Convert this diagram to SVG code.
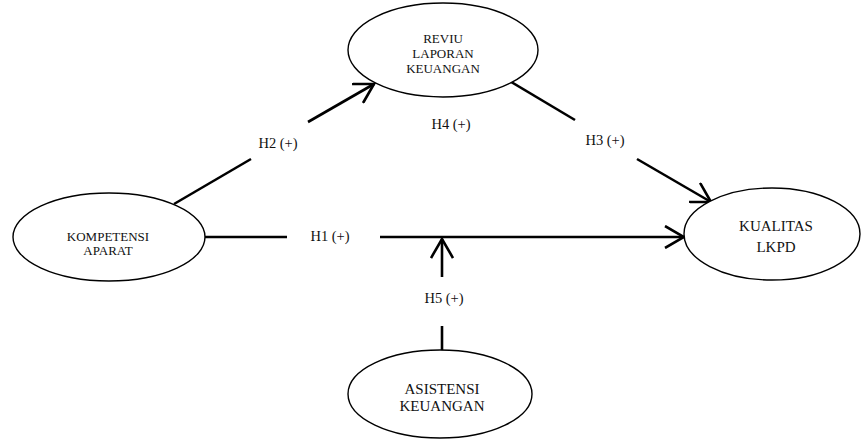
<svg xmlns="http://www.w3.org/2000/svg" width="861" height="441" viewBox="0 0 861 441">
<style>
.node ellipse{fill:#fff;stroke:#000;stroke-width:1.4}
.t{font-family:"Liberation Serif","Times New Roman",serif;fill:#111;text-anchor:middle}
.s{font-size:13px}
.b{font-size:15px}
.lbl{font-family:"Liberation Serif","Times New Roman",serif;font-size:14.5px;fill:#111;text-anchor:middle}
.ln{stroke:#000;stroke-width:2.6;fill:none}
</style>
<defs>
<marker id="ah" viewBox="0 0 24 24" refX="22" refY="12" markerWidth="24" markerHeight="24" markerUnits="userSpaceOnUse" orient="auto">
<path d="M3,1 L22,12 L3,23" fill="none" stroke="#000" stroke-width="2.6"/>
</marker>
</defs>
<g id="connectors">
<line class="ln" x1="174" y1="204" x2="251" y2="159"/>
<line class="ln" x1="308" y1="122" x2="374" y2="84" marker-end="url(#ah)"/>
<line class="ln" x1="508" y1="80" x2="575" y2="120"/>
<line class="ln" x1="637" y1="159" x2="711" y2="202" marker-end="url(#ah)"/>
<line class="ln" x1="204" y1="237" x2="287" y2="237"/>
<line class="ln" x1="380" y1="237" x2="684" y2="237" marker-end="url(#ah)"/>
<line class="ln" x1="442" y1="277" x2="442" y2="239" marker-end="url(#ah)"/>
<line class="ln" x1="442" y1="326" x2="442" y2="351"/>
<text class="lbl" x="278" y="148">H2 (+)</text>
<text class="lbl" x="451" y="129">H4 (+)</text>
<text class="lbl" x="605" y="145">H3 (+)</text>
<text class="lbl" x="330" y="241">H1 (+)</text>
<text class="lbl" x="444" y="303">H5 (+)</text>
</g>
<g id="reviu" class="node">
<ellipse cx="443" cy="50" rx="95" ry="47"/>
<text class="t s" x="443" y="43">REVIU</text>
<text class="t s" x="443" y="58">LAPORAN</text>
<text class="t s" x="443" y="73">KEUANGAN</text>
</g>
<g id="kompetensi" class="node">
<ellipse cx="109" cy="237" rx="96" ry="44"/>
<text class="t s" x="108" y="241">KOMPETENSI</text>
<text class="t s" x="108" y="255">APARAT</text>
</g>
<g id="kualitas" class="node">
<ellipse cx="772" cy="234" rx="88" ry="46"/>
<text class="t b" x="776" y="231">KUALITAS</text>
<text class="t b" x="776" y="252">LKPD</text>
</g>
<g id="asistensi" class="node">
<ellipse cx="440" cy="394" rx="92" ry="44"/>
<text class="t b" x="442" y="394">ASISTENSI</text>
<text class="t b" x="442" y="411">KEUANGAN</text>
</g>
</svg>
